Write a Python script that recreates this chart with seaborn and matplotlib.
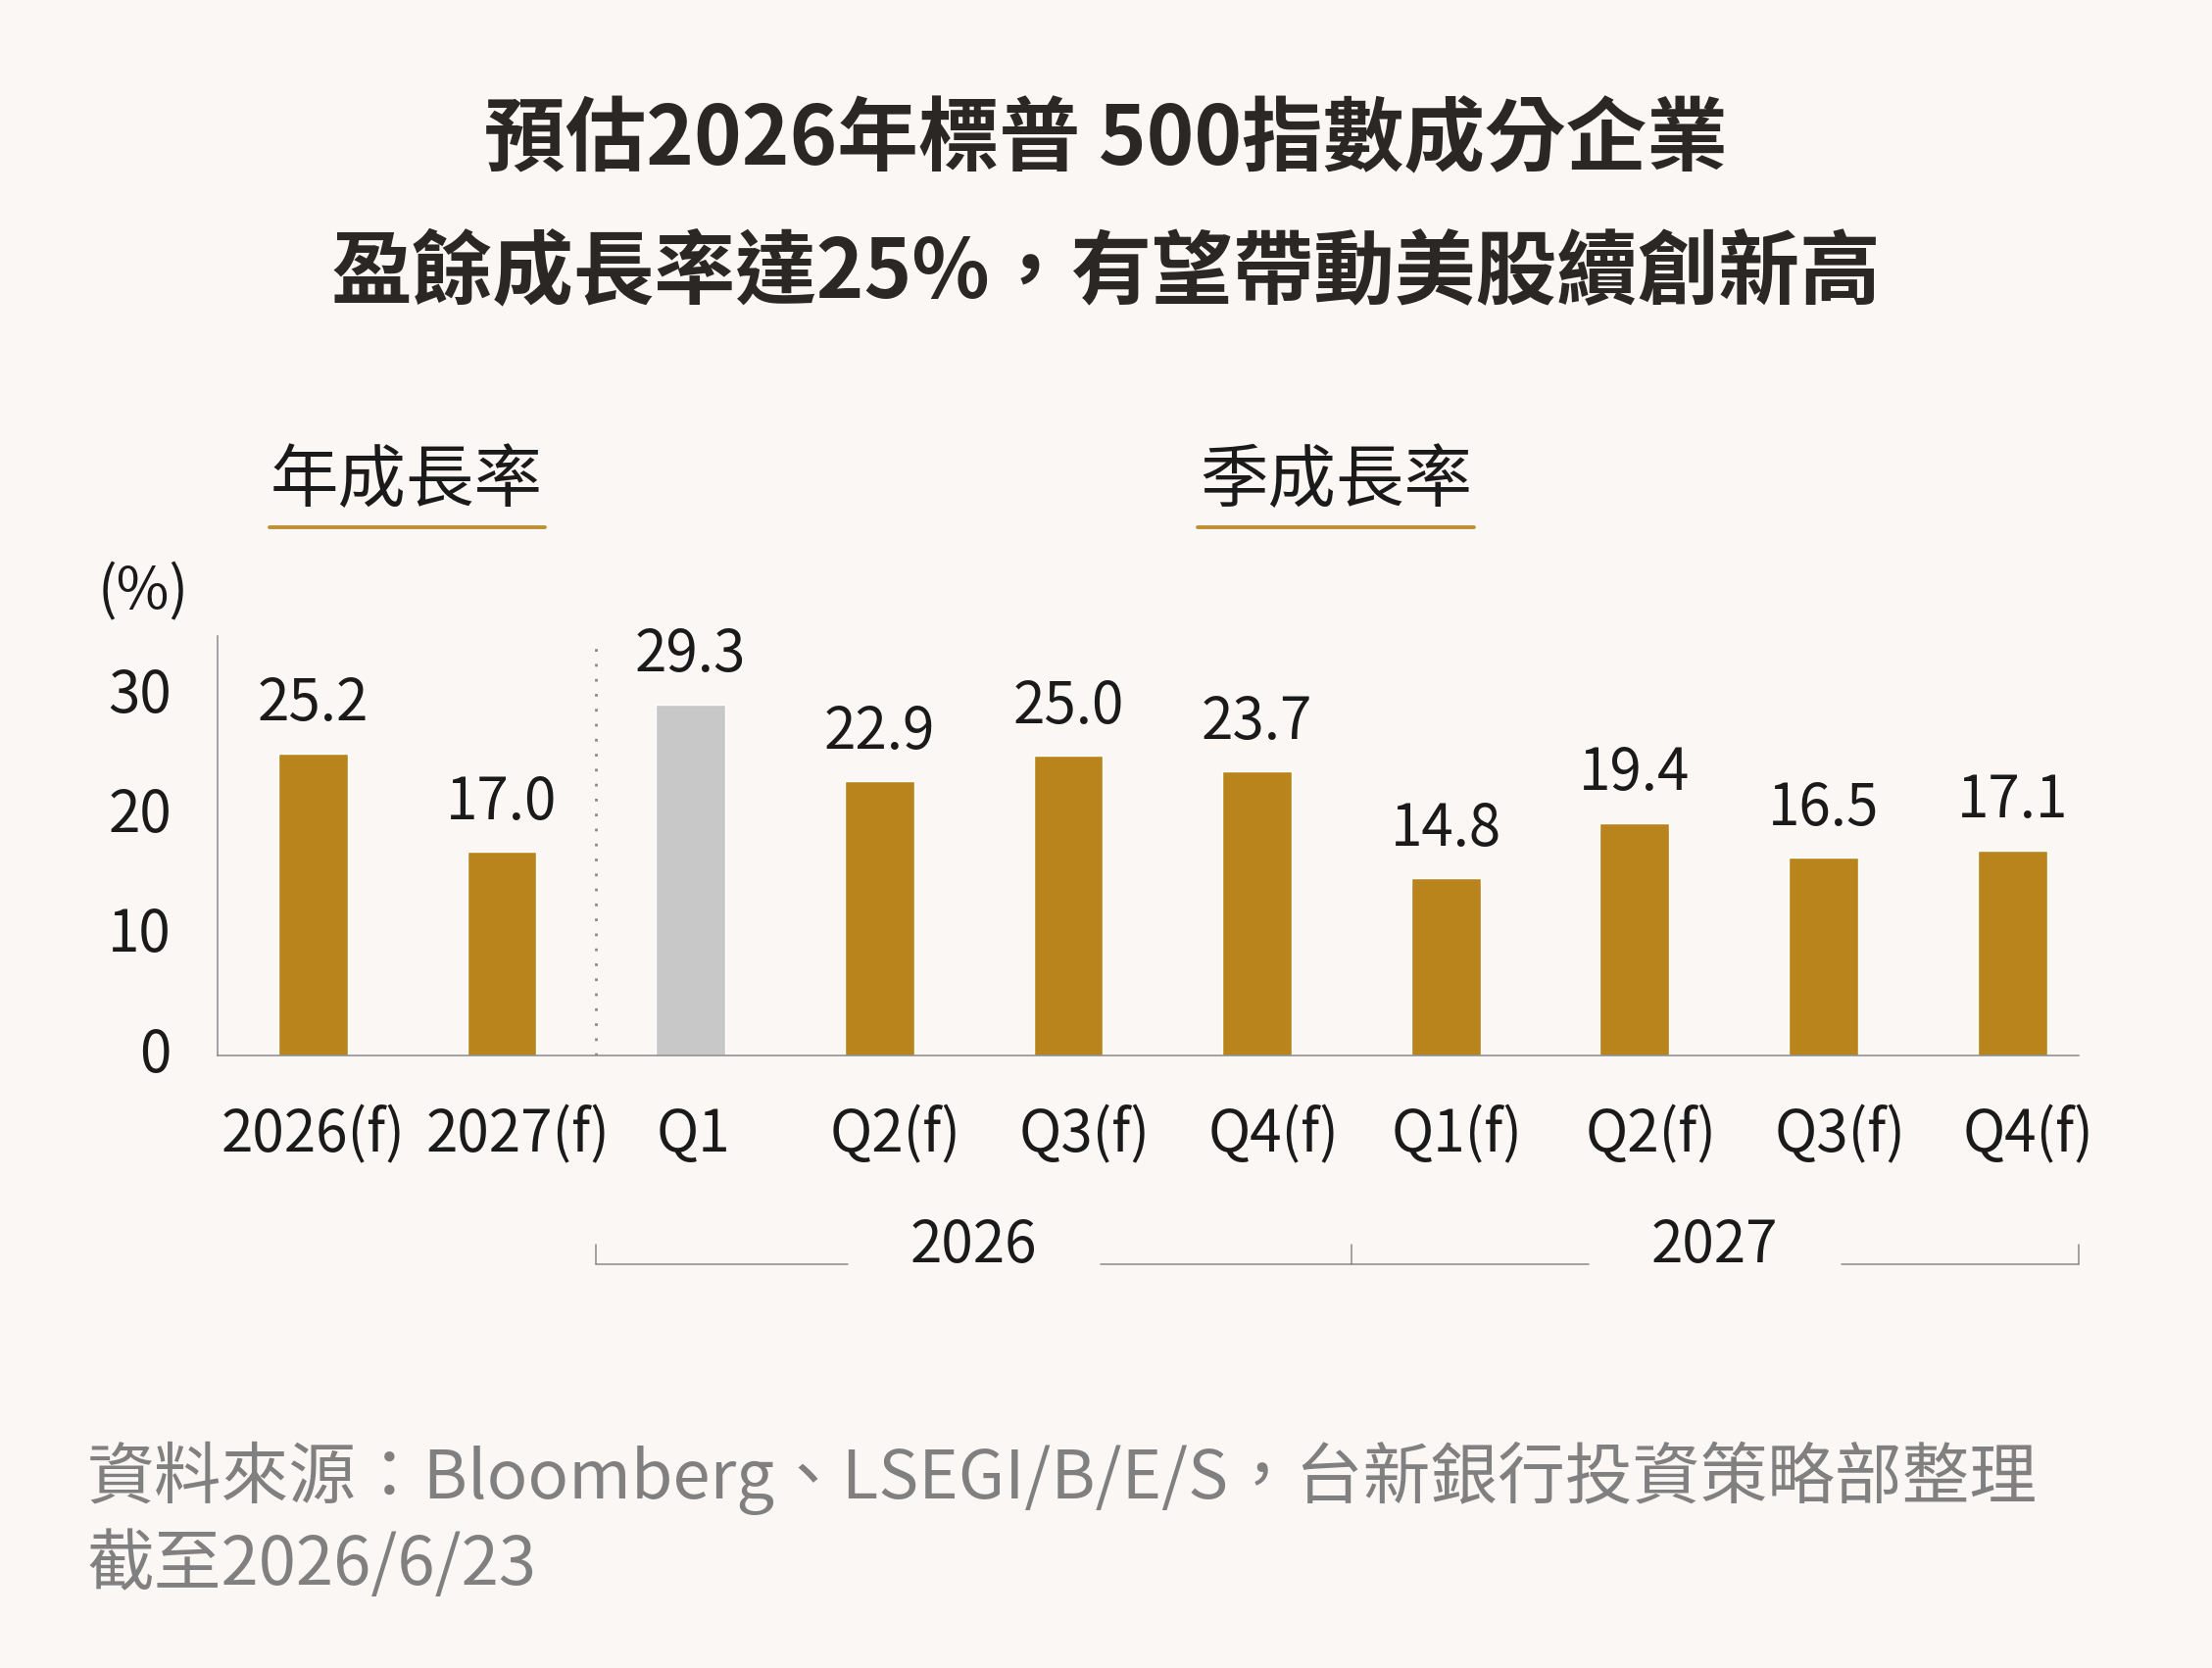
import matplotlib
matplotlib.use('Agg')
import matplotlib.pyplot as plt
import matplotlib.transforms as mtrans
import seaborn as sns
import pandas as pd
from matplotlib.lines import Line2D

# 資料
periods = ['2026', '2027', '2026Q1', '2026Q2', '2026Q3', '2026Q4',
           '2027Q1', '2027Q2', '2027Q3', '2027Q4']
tick_labels = ['2026(f)', '2027(f)', 'Q1', 'Q2(f)', 'Q3(f)', 'Q4(f)',
               'Q1(f)', 'Q2(f)', 'Q3(f)', 'Q4(f)']
growth = [25.2, 17.0, 29.3, 22.9, 25.0, 23.7, 14.8, 19.4, 16.5, 17.1]
actual = ['2026Q1']  # 已公布 (灰色)
year_groups = ['2026', '2027']

BG = '#FBF7F5'
GOLD = '#B8841B'
GREY_BAR = '#C8C8C8'
AXIS = '#8A8A8A'
TEXT = '#1A1A1A'

sns.set_theme(style='white')
plt.rcParams['font.family'] = ['Noto Sans CJK TC', 'DejaVu Sans']

df = pd.DataFrame({'period': periods, 'growth': growth})
palette = {p: (GREY_BAR if p in actual else GOLD) for p in periods}

fig = plt.figure(figsize=(22.57, 17.02), dpi=100, facecolor=BG)
ax = fig.add_axes([0.0984, 0.3672, 0.8412, 0.2515])
ax.set_facecolor(BG)

sns.barplot(data=df, x='period', y='growth', hue='period', palette=palette,
            order=periods, width=0.368, legend=False, ax=ax, saturation=1)

for c in ax.containers:
    ax.bar_label(c, fmt='%.1f', padding=14, fontsize=42, color=TEXT)

ax.set_xlim(-0.505, 9.35)
ax.set_ylim(0, 35)
ax.set_yticks([0, 10, 20, 30])
ax.set_xticks(range(len(periods)), tick_labels)
ax.set_xticks([i + 0.5 for i in range(len(periods) - 1)], minor=True)
ax.tick_params(axis='x', which='major', length=0, pad=37, labelsize=42, labelcolor=TEXT)
ax.tick_params(axis='x', which='minor', direction='in', length=11, width=1.1, color=AXIS)
ax.tick_params(axis='y', direction='in', length=11, width=1.1, color=AXIS,
               pad=34, labelsize=42, labelcolor=TEXT)
ax.set_xlabel('')
ax.set_ylabel('')
for s in ['top', 'right']:
    ax.spines[s].set_visible(False)
for s in ['left', 'bottom']:
    ax.spines[s].set_color(AXIS)
    ax.spines[s].set_linewidth(1.1)

# 標籤微調位置
x_shift = [0, 12, 2, 12, 12, 12, 8, 12, 12, 12]
for lab, dx in zip(ax.get_xticklabels(), x_shift):
    lab.set_transform(lab.get_transform() + mtrans.ScaledTranslation(dx / 72, 0, fig.dpi_scale_trans))
for lab in ax.get_yticklabels():
    lab.set_transform(lab.get_transform() + mtrans.ScaledTranslation(0, 5 / 72, fig.dpi_scale_trans))

# 年 / 季 分隔虛線
ax.plot([1.5, 1.5], [0, 34.5], color=AXIS, lw=2.0, linestyle=(0, (1, 4.5)))

# 年份括號
tr = ax.get_xaxis_transform()
y_line, y_tick, y_txt = -0.498, -0.451, -0.455
spans = [(1.5, 5.5), (5.5, 9.35)]
for (a, b), yr in zip(spans, year_groups):
    mid = (a + b) / 2
    ax.plot([a, mid - 0.67], [y_line, y_line], color=AXIS, lw=1.1, transform=tr, clip_on=False)
    ax.plot([mid + 0.67, b], [y_line, y_line], color=AXIS, lw=1.1, transform=tr, clip_on=False)
    ax.text(mid, y_txt, yr, transform=tr, ha='center', va='center', fontsize=42, color=TEXT)
for x in [1.5, 5.5, 9.35]:
    ax.plot([x, x], [y_line, y_tick], color=AXIS, lw=1.1, transform=tr, clip_on=False)

# 標題
fig.text(0.5, 0.9154, '預估2026年標普 500指數成分企業', ha='center', va='center',
         fontsize=59.5, fontweight='bold', color='#2B2724')
fig.text(0.5, 0.8361, '盈餘成長率達25%，有望帶動美股續創新高', ha='center', va='center',
         fontsize=59.5, fontweight='bold', color='#2B2724')

# 小標
for xc, label, (x0, x1) in [(0.1839, '年成長率', (275, 556)), (0.6039, '季成長率', (1222, 1504))]:
    fig.text(xc, 0.7115, label, ha='center', va='center', fontsize=50, color=TEXT)
    fig.add_artist(Line2D([x0 / 2257, x1 / 2257], [0.6839, 0.6839], color='#BF9033', lw=2.8))

fig.text(0.0647, 0.6445, '(%)', ha='center', va='center', fontsize=42, color=TEXT)

# 資料來源
fig.text(0.0393, 0.1140, '資料來源：Bloomberg、LSEGI/B/E/S，台新銀行投資策略部整理',
         ha='left', va='center', fontsize=49.5, color='#808080')
fig.text(0.0393, 0.0612, '截至2026/6/23', ha='left', va='center', fontsize=49.5, color='#808080')

fig.savefig('out.png', dpi=100, facecolor=BG)
